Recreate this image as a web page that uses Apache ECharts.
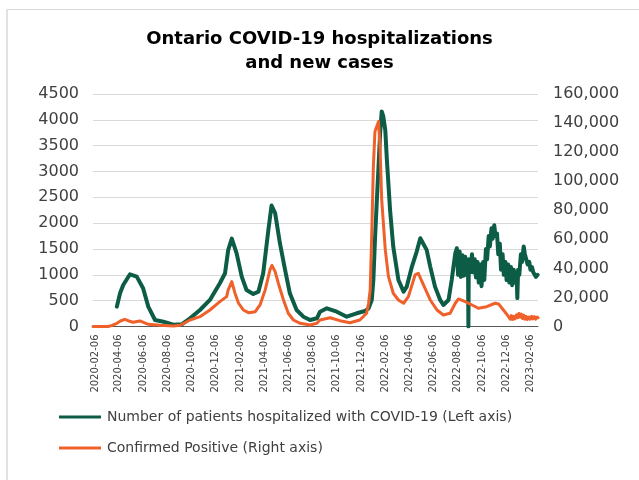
<!DOCTYPE html>
<html>
<head>
<meta charset="utf-8">
<script src="https://cdn.jsdelivr.net/npm/echarts@6/dist/echarts.min.js"></script>
<style>
html,body{margin:0;padding:0;background:#fff;}
#chart{width:639px;height:480px;}
</style>
</head>
<body>
<div id="chart"></div>
<script>
// ---- data ----
const titleText = 'Ontario COVID-19 hospitalizations\nand new cases';
const seriesNames = ['Number of patients hospitalized with COVID-19 (Left axis)', 'Confirmed Positive (Right axis)'];

const hospDates = [
'2020-04-01','2020-04-09','2020-04-17','2020-05-04','2020-05-07','2020-05-21','2020-06-06','2020-06-19','2020-07-06','2020-07-27',
'2020-08-21','2020-09-11','2020-10-02','2020-10-27','2020-11-21','2020-12-16','2020-12-29','2021-01-06','2021-01-15','2021-01-27',
'2021-02-09','2021-02-21','2021-03-10','2021-03-23','2021-04-04','2021-04-17','2021-04-25','2021-05-04','2021-05-16','2021-05-29',
'2021-06-10','2021-06-27','2021-07-14','2021-07-31','2021-08-17','2021-08-25','2021-09-11','2021-10-06','2021-10-31','2021-11-25',
'2021-12-16','2021-12-25','2022-01-02','2022-01-06','2022-01-10','2022-01-14','2022-01-19','2022-01-23','2022-01-27','2022-01-31',
'2022-02-05','2022-02-09','2022-02-17','2022-02-25','2022-03-10','2022-03-23','2022-03-31','2022-04-13','2022-04-25','2022-05-04',
'2022-05-08','2022-05-20','2022-05-29','2022-06-10','2022-06-23','2022-07-01','2022-07-14','2022-07-22','2022-07-31','2022-08-04',
'2022-08-07','2022-08-11','2022-08-14','2022-08-18','2022-08-21','2022-08-25','2022-08-28','2022-09-01','2022-09-02','2022-09-03',
'2022-09-07','2022-09-11','2022-09-14','2022-09-18','2022-09-21','2022-09-25','2022-09-28','2022-10-02','2022-10-05','2022-10-09',
'2022-10-12','2022-10-16','2022-10-19','2022-10-23','2022-10-26','2022-10-30','2022-11-02','2022-11-06','2022-11-09','2022-11-13',
'2022-11-16','2022-11-20','2022-11-23','2022-11-27','2022-11-30','2022-12-04','2022-12-07','2022-12-11','2022-12-14','2022-12-18',
'2022-12-21','2022-12-25','2022-12-28','2023-01-01','2023-01-03','2023-01-05','2023-01-08','2023-01-12','2023-01-15','2023-01-19',
'2023-01-22','2023-01-26','2023-01-29','2023-02-02','2023-02-05','2023-02-09','2023-02-12','2023-02-16','2023-02-19','2023-02-23'
];
const hospValues = [
384,643,804,1011,1040,965,740,384,126,93,
35,42,159,320,514,837,1031,1483,1700,1419,
965,707,630,675,1031,1870,2340,2194,1612,1095,
643,320,190,126,159,287,352,287,190,256,
300,352,514,901,1676,2322,3097,3744,4163,4066,
3800,3227,2258,1547,901,675,772,1159,1450,1709,
1709,1483,1159,772,514,417,514,901,1418,1515,
1000,1450,960,1380,980,1350,1000,1250,0,1300,
1050,1400,1050,1300,950,1250,850,1200,780,1250,
900,1500,1300,1750,1550,1900,1700,1960,1750,1800,
1400,1600,1100,1400,1000,1250,900,1200,850,1150,
800,1100,850,1050,550,1100,1000,1400,1250,1550,
1400,1400,1200,1250,1100,1150,1050,1080,960,1000
];

const caseDates = [
'2020-02-01','2020-03-10','2020-03-20','2020-04-01','2020-04-10','2020-04-21','2020-05-01','2020-05-12','2020-05-29','2020-06-19',
'2020-07-19','2020-08-21','2020-09-07','2020-10-02','2020-10-27','2020-11-21','2020-12-16','2021-01-02','2021-01-06','2021-01-15',
'2021-01-23','2021-02-01','2021-02-13','2021-02-26','2021-03-15','2021-03-27','2021-04-09','2021-04-21','2021-04-26','2021-05-04',
'2021-05-12','2021-05-25','2021-06-06','2021-06-19','2021-07-06','2021-07-31','2021-08-17','2021-08-25','2021-09-19','2021-10-14',
'2021-11-08','2021-12-03','2021-12-20','2021-12-25','2021-12-29','2022-01-02','2022-01-06','2022-01-10','2022-01-19','2022-01-23',
'2022-01-27','2022-02-05','2022-02-13','2022-02-25','2022-03-10','2022-03-23','2022-04-04','2022-04-21','2022-04-29','2022-05-12',
'2022-05-29','2022-06-15','2022-07-01','2022-07-18','2022-07-31','2022-08-08','2022-08-25','2022-09-11','2022-09-27','2022-10-18',
'2022-11-08','2022-11-17','2022-11-29','2022-12-12','2022-12-16','2022-12-19','2022-12-22','2022-12-25','2022-12-28','2023-01-01',
'2023-01-04','2023-01-07','2023-01-10','2023-01-13','2023-01-16','2023-01-19','2023-01-22','2023-01-25','2023-01-28','2023-02-01',
'2023-02-04','2023-02-08','2023-02-11','2023-02-15','2023-02-18','2023-02-22','2023-02-24'
];
const caseValues = [
0,0,800,2200,3800,4960,3800,2900,3800,1500,
830,300,830,4480,6750,11370,17090,20530,25150,30870,
22900,16000,11370,9500,10200,14800,25150,38900,42000,37800,
29800,18260,9100,4480,2200,1000,2200,4480,6060,4000,
2620,4480,9100,16000,25150,64200,110100,134200,141100,121600,
87200,52700,34300,22900,18260,16000,20500,35500,36650,28600,
18260,11370,7900,9100,16000,18950,17100,14800,12540,13640,
16000,15500,11370,6750,5000,7500,4800,7000,5200,8000,
6000,9000,6500,8500,5500,7800,5000,7000,4800,6500,
5000,7000,5200,6800,5000,6500,6000
];

const xLabelDates = [
'2020-02-06','2020-04-06','2020-06-06','2020-08-06','2020-10-06','2020-12-06','2021-02-06','2021-04-06','2021-06-06','2021-08-06',
'2021-10-06','2021-12-06','2022-02-06','2022-04-06','2022-06-06','2022-08-06','2022-10-06','2022-12-06','2023-02-06'
];
const xMin = '2020-02-01';
const xMax = '2023-02-24';

// ---- helpers ----
function ts(s){ const p = s.split('-').map(Number); return Date.UTC(p[0], p[1]-1, p[2]); }
function pad(n){ return (n < 10 ? '0' : '') + n; }
function fmt(v){ const d = new Date(v); return d.getUTCFullYear() + '-' + pad(d.getUTCMonth()+1) + '-' + pad(d.getUTCDate()); }

const hospData = hospDates.map((d, i) => [ts(d), hospValues[i]]);
const caseData = caseDates.map((d, i) => [ts(d), caseValues[i]]);

const FONT = 'DejaVu Sans';
const chart = echarts.init(document.getElementById('chart'), null, {renderer: 'canvas'});
chart.setOption({
  animation: false,
  backgroundColor: '#ffffff',
  textStyle: {fontFamily: FONT},
  title: {
    text: titleText,
    left: 'center',
    top: 22,
    textStyle: {fontFamily: FONT, fontSize: 18, fontWeight: 'bold', color: '#000000', lineHeight: 24}
  },
  graphic: [
    {type: 'line', shape: {x1: 7, y1: 9.5, x2: 639, y2: 9.5}, style: {stroke: '#d9d9d9', lineWidth: 1}, silent: true},
    {type: 'line', shape: {x1: 7, y1: 9.5, x2: 7, y2: 480}, style: {stroke: '#d9d9d9', lineWidth: 1.5}, silent: true}
  ],
  legend: {
    orient: 'vertical',
    left: 59,
    top: 410,
    padding: 0,
    itemGap: 17,
    itemWidth: 42,
    itemHeight: 3,
    icon: 'rect',
    textStyle: {fontFamily: FONT, fontSize: 14, color: '#404040', padding: [0, 0, 0, 1]},
    data: seriesNames
  },
  grid: {left: 93, right: 101, top: 94, bottom: 153.5, containLabel: false},
  xAxis: {
    type: 'value',
    min: ts(xMin),
    max: ts(xMax),
    axisLine: {show: true, onZero: false, lineStyle: {color: '#595959', width: 1}},
    axisTick: {show: false},
    splitLine: {show: false},
    axisLabel: {
      customValues: xLabelDates.map(ts),
      rotate: 90,
      margin: 8,
      fontSize: 10,
      color: '#404040',
      fontFamily: FONT,
      formatter: (v) => fmt(v),
      hideOverlap: false
    }
  },
  yAxis: [
    {
      type: 'value', min: 0, max: 4500, interval: 500,
      axisLine: {show: false}, axisTick: {show: false},
      splitLine: {show: true, lineStyle: {color: '#d9d9d9', width: 1}},
      axisLabel: {fontSize: 16, color: '#404040', margin: 14, fontFamily: FONT,
        formatter: (v) => String(v)}
    },
    {
      type: 'value', min: 0, max: 160000, interval: 20000,
      axisLine: {show: false}, axisTick: {show: false},
      splitLine: {show: false},
      axisLabel: {fontSize: 16, color: '#404040', margin: 15, fontFamily: FONT,
        formatter: (v) => v.toLocaleString('en-US')}
    }
  ],
  series: [
    {
      name: seriesNames[0], type: 'line', yAxisIndex: 0, data: hospData,
      showSymbol: false, symbol: 'none',
      lineStyle: {color: '#0d5c46', width: 4, join: 'round', cap: 'round'},
      itemStyle: {color: '#0d5c46'}
    },
    {
      name: seriesNames[1], type: 'line', yAxisIndex: 1, data: caseData,
      showSymbol: false, symbol: 'none',
      lineStyle: {color: '#f0602a', width: 3, join: 'round', cap: 'round'},
      itemStyle: {color: '#f0602a'}
    }
  ]
});
</script>
</body>
</html>
